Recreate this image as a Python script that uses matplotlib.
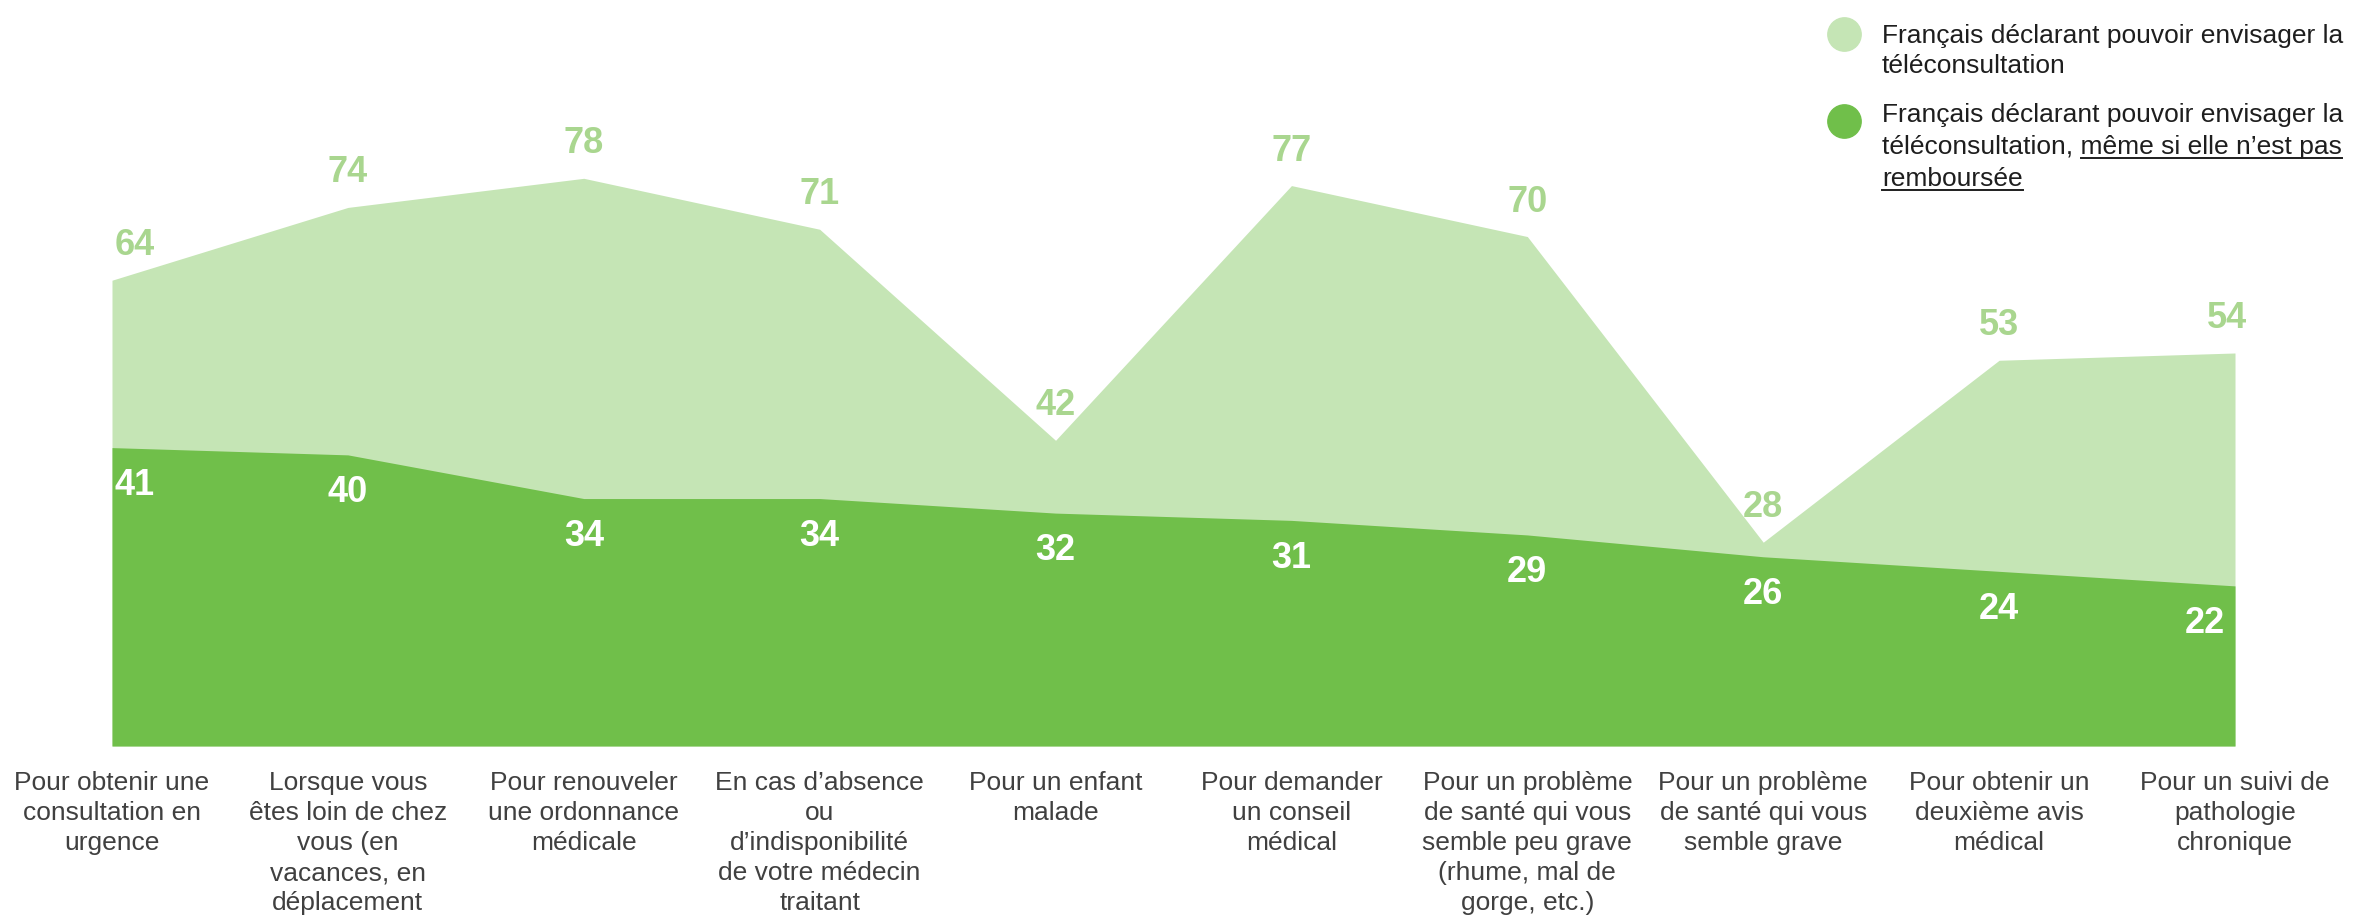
import matplotlib
matplotlib.use("Agg")
import matplotlib.pyplot as plt
from matplotlib.lines import Line2D
import numpy as np

plt.rcParams['font.family'] = ['Liberation Sans', 'DejaVu Sans']

categories = [
    "Pour obtenir une\nconsultation en\nurgence",
    "Lorsque vous\nêtes loin de chez\nvous (en\nvacances, en\ndéplacement",
    "Pour renouveler\nune ordonnance\nmédicale",
    "En cas d’absence\nou\nd’indisponibilité\nde votre médecin\ntraitant",
    "Pour un enfant\nmalade",
    "Pour demander\nun conseil\nmédical",
    "Pour un problème\nde santé qui vous\nsemble peu grave\n(rhume, mal de\ngorge, etc.)",
    "Pour un problème\nde santé qui vous\nsemble grave",
    "Pour obtenir un\ndeuxième avis\nmédical",
    "Pour un suivi de\npathologie\nchronique",
]
envisage = [64, 74, 78, 71, 42, 77, 70, 28, 53, 54]
non_rembourse = [41, 40, 34, 34, 32, 31, 29, 26, 24, 22]

legend_labels = [
    "Français déclarant pouvoir envisager la",
    "téléconsultation",
]

LIGHT = "#C5E5B5"
DARK = "#70BF4A"
LIGHT_TXT = "#A9D68F"

W, H = 2374, 917
fig = plt.figure(figsize=(W / 100, H / 100), dpi=100)
ax = fig.add_axes([112 / W, (H - 746) / H, (2235 - 112) / W, 746 / H])

x = np.arange(len(categories))
ax.fill_between(x, 0, envisage, color=LIGHT, linewidth=0)
ax.fill_between(x, 0, non_rembourse, color=DARK, linewidth=0)
ax.set_xlim(0, len(categories) - 1)
ax.set_ylim(0, 102.5)
ax.axis('off')

# value labels: light series above the line, dark series inside the area
n = len(categories)
for i in range(n):
    ha, dx = 'center', 0
    if i == 0:
        ha, dx = 'left', 2
    elif i == n - 1:
        dx = -6
    ax.annotate(str(envisage[i]), (x[i], envisage[i]), xytext=(dx, 18),
                textcoords='offset points', ha=ha, va='baseline',
                fontsize=26, fontweight='bold', color=LIGHT_TXT)
    ha2, dx2 = 'center', 0
    if i == 0:
        ha2, dx2 = 'left', 2
    elif i == n - 1:
        ha2, dx2 = 'right', -7
    ax.annotate(str(non_rembourse[i]), (x[i], non_rembourse[i]), xytext=(dx2, -34),
                textcoords='offset points', ha=ha2, va='baseline',
                fontsize=26, fontweight='bold', color='white')

# category labels under the chart
for i, lab in enumerate(categories):
    ax.annotate(lab, (x[i], 0), xytext=(0, -18), textcoords='offset points',
                ha='center', va='top', fontsize=19, color='#404040',
                linespacing=1.32, annotation_clip=False)

# legend
TXT = "#1E1E1E"
FS = 19
lx = 1882 / W
fig.add_artist(Line2D([1844 / W], [1 - 34 / H], marker='o', markersize=24,
                      color=LIGHT, linestyle='none', transform=fig.transFigure))
fig.add_artist(Line2D([1844 / W], [1 - 121 / H], marker='o', markersize=24,
                      color=DARK, linestyle='none', transform=fig.transFigure))
fig.text(lx, 1 - 43 / H, legend_labels[0], fontsize=FS, color=TXT, va='baseline')
fig.text(lx, 1 - 73 / H, legend_labels[1], fontsize=FS, color=TXT, va='baseline')
fig.text(lx, 1 - 122 / H, legend_labels[0], fontsize=FS, color=TXT, va='baseline')
line2 = fig.text(lx, 1 - 154 / H, "téléconsultation, même si elle n’est pas",
                 fontsize=FS, color=TXT, va='baseline')
line3 = fig.text(lx, 1 - 186 / H, "remboursée", fontsize=FS, color=TXT, va='baseline')

# underline the "même si elle n'est pas remboursée" part
fig.canvas.draw()
r = fig.canvas.get_renderer()
probe = fig.text(0, 0, "même si elle n’est pas", fontsize=FS)
uw = probe.get_window_extent(r).width
probe.remove()
for t, full in ((line2, False), (line3, True)):
    bb = t.get_window_extent(r)
    x1 = bb.x1
    x0 = bb.x0 if full else bb.x1 - uw
    yb = t.get_position()[1] * H - 4
    fig.add_artist(Line2D([x0 / W, x1 / W], [yb / H, yb / H], color=TXT,
                          linewidth=1.4, transform=fig.transFigure))

fig.savefig("out.png", dpi=100)
